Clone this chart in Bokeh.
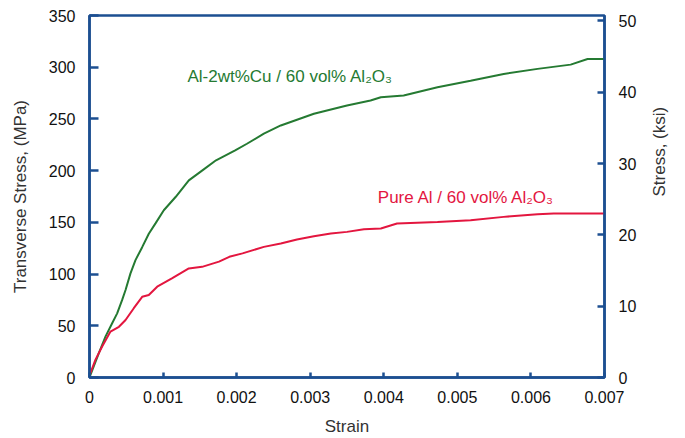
import math
from bokeh.plotting import figure
from bokeh.models import Range1d, LinearAxis, FixedTicker, Label
from bokeh.embed import file_html
from bokeh.resources import INLINE

# ---- data ----
strain_alcu = [0, 0.000127, 0.000217, 0.000308, 0.000376, 0.000444, 0.00049, 0.000557,
               0.000625, 0.000716, 0.000806, 0.000897, 0.00101, 0.00117, 0.00135, 0.00153,
               0.00172, 0.00198, 0.00214, 0.00237, 0.0026, 0.00305, 0.0035, 0.00382,
               0.00396, 0.00427, 0.00473, 0.00518, 0.00563, 0.00609, 0.00654, 0.00677, 0.007]
stress_alcu = [0, 23.5, 39.5, 52.5, 62, 75, 84.6, 100.7,
               113.5, 126, 139, 149, 161.7, 174.5, 190.6, 200,
               210, 219.6, 226, 235.7, 243.7, 255, 263, 267.8,
               271, 272.6, 280.6, 287, 293.5, 298.4, 302.5, 308, 308]

strain_al = [0, 0.00008, 0.000172, 0.000285, 0.0004, 0.00049, 0.000602, 0.000716,
             0.000806, 0.00092, 0.00112, 0.00135, 0.00153, 0.00176, 0.0019, 0.00208,
             0.00237, 0.0026, 0.00282, 0.00305, 0.00328, 0.0035, 0.00373, 0.00396,
             0.00418, 0.00473, 0.00518, 0.00563, 0.00609, 0.00631, 0.007]
stress_al = [2, 17, 30, 44.4, 49, 55.6, 67, 78,
             79.7, 87.8, 95.8, 105.5, 107, 112, 116.7, 120,
             126.3, 129.6, 133.5, 136.6, 139.2, 140.8, 143.4, 144,
             148.9, 150.4, 152, 155.3, 157.9, 158.5, 158.5]

x_ticks = [0, 0.001, 0.002, 0.003, 0.004, 0.005, 0.006, 0.007]
x_tick_labels = ["0", "0.001", "0.002", "0.003", "0.004", "0.005", "0.006", "0.007"]
mpa_ticks = [0, 50, 100, 150, 200, 250, 300, 350]
ksi_ticks = [0, 10, 20, 30, 40, 50]
MPA_PER_KSI = 6.894757

label_alcu = "Al-2wt%Cu / 60 vol% Al\u2082O\u2083"
label_al = "Pure Al / 60 vol% Al\u2082O\u2083"
right_title = "Stress, (ksi)"

BLUE = "#1c4f91"
GREEN = "#257a32"
RED = "#e3163f"
FONT = "Liberation Sans"

p = figure(width=685, height=438, x_range=Range1d(0, 0.007), y_range=Range1d(0, 350),
           output_backend="svg", toolbar_location=None,
           min_border_left=89, min_border_right=81, min_border_top=15, min_border_bottom=60)
p.background_fill_color = "white"
p.border_fill_color = "white"
p.xgrid.visible = False
p.ygrid.visible = False
p.outline_line_color = BLUE
p.outline_line_width = 2.5

p.extra_y_ranges = {"ksi": Range1d(0, 350 / MPA_PER_KSI)}
raxis = LinearAxis(y_range_name="ksi", ticker=FixedTicker(ticks=ksi_ticks),
                   axis_label=right_title)
p.add_layout(raxis, "right")

p.xaxis.ticker = FixedTicker(ticks=x_ticks)
p.xaxis.major_label_overrides = {t: s for t, s in zip(x_ticks, x_tick_labels)}
p.xaxis.axis_label = "Strain"
p.yaxis[0].ticker = FixedTicker(ticks=mpa_ticks)
p.yaxis[0].axis_label = "Transverse Stress, (MPa)"

for ax in p.axis:
    ax.axis_line_color = BLUE
    ax.axis_line_width = 2.5
    ax.major_tick_line_color = BLUE
    ax.major_tick_line_width = 2.5
    ax.major_tick_out = 0
    ax.minor_tick_line_color = None
    ax.major_label_text_font = FONT
    ax.major_label_text_font_size = "16px"
    ax.major_label_text_color = "#111111"
    ax.major_label_standoff = 14
    ax.axis_label_text_font = FONT
    ax.axis_label_text_font_size = "17px"
    ax.axis_label_text_font_style = "normal"
    ax.axis_label_text_color = "#333333"

p.xaxis.major_tick_in = 5
p.xaxis.major_label_standoff = 13
p.xaxis.axis_label_standoff = 11
p.yaxis[0].major_tick_in = 9
p.yaxis[0].axis_label_standoff = 16
raxis.major_tick_in = 7
raxis.axis_label_standoff = 20

try:
    raxis.axis_label_orientation = math.pi / 2
except Exception:
    raxis.axis_label = None
    p.add_layout(Label(x=0.00779, y=175, text=right_title, angle=math.pi / 2,
                       text_color="#333333", text_font=FONT, text_font_size="17px",
                       text_align="center", text_baseline="middle"))

p.line(strain_alcu, stress_alcu, line_color=GREEN, line_width=2)
p.line(strain_al, stress_al, line_color=RED, line_width=2)

p.add_layout(Label(x=0.001332, y=291, text=label_alcu, text_color=GREEN,
                   text_font=FONT, text_font_size="17px", text_baseline="middle"))
p.add_layout(Label(x=0.003919, y=174, text=label_al, text_color=RED,
                   text_font=FONT, text_font_size="17px", text_baseline="middle"))

open("out.html", "w").write(file_html(p, INLINE))
